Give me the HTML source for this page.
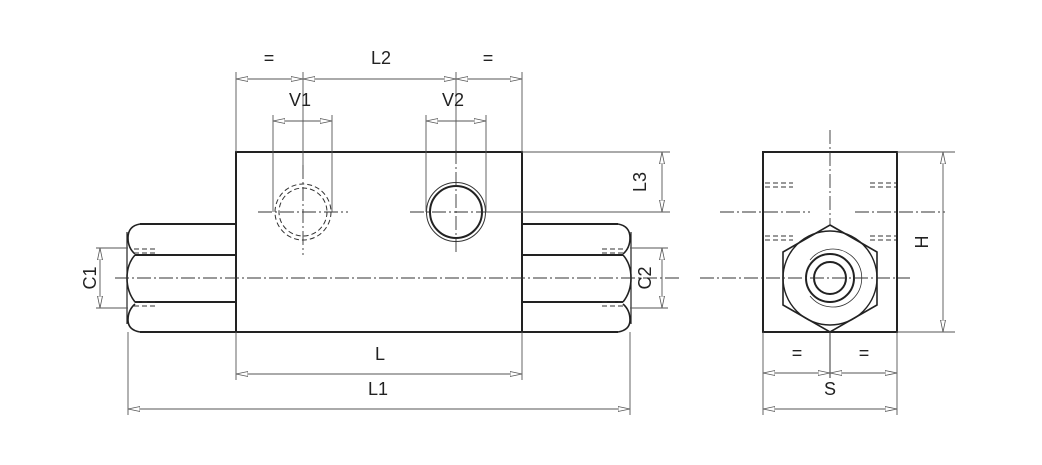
<!DOCTYPE html>
<html><head><meta charset="utf-8"><style>
html,body{margin:0;padding:0;background:#fff;}
svg{display:block;}
text{font-family:"Liberation Sans",sans-serif;font-size:18px;fill:#222;}
</style></head><body>
<svg width="1042" height="465" viewBox="0 0 1042 465" xmlns="http://www.w3.org/2000/svg">
<defs>
<marker id="a" viewBox="0 0 12 6" refX="12" refY="3" markerWidth="12" markerHeight="6" orient="auto-start-reverse" markerUnits="userSpaceOnUse">
<path d="M0,0.5 L12,3 L0,5.5 Z" fill="#fff" stroke="#555" stroke-width="0.8"/>
</marker>
</defs>
<g fill="none" stroke="#222" stroke-width="2">
<rect x="236" y="152" width="286" height="180"/>
<path d="M236,224 H140 M236,255 H135 M236,302 H135 M236,332 H140"/>
<path d="M140,224 Q128,226 128,238 Q128,248 135,254 M135,255 Q127,264 127,278 Q127,292 135,302 M135,304 Q128,310 128,320 Q128,330 140,332" stroke-width="1.6"/>
<path d="M127,232 V324 M631,232 V324" stroke-width="1.2"/>
<path d="M522,224 H618 M522,255 H623 M522,302 H623 M522,332 H618"/>
<path d="M618,224 Q630,226 630,238 Q630,248 623,254 M623,255 Q631,264 631,278 Q631,292 623,302 M623,304 Q630,310 630,320 Q630,330 618,332" stroke-width="1.6"/>
<circle cx="456" cy="212" r="26"/>
<rect x="763" y="152" width="134" height="180"/>
<polygon points="830,225 877,252 877,305 830,332 783,305 783,252" stroke-width="1.6"/>
<circle cx="830" cy="278" r="16"/>
<circle cx="830" cy="278" r="24"/>
<circle cx="830" cy="278" r="47" stroke-width="1.4"/>
</g>
<g fill="none" stroke="#333" stroke-width="1">
<circle cx="456" cy="212" r="29.5"/>
<path d="M810,260 A29,29 0 1 1 810,296" stroke-width="0.8"/>
<g stroke-dasharray="5,3" stroke-width="1">
<circle cx="303" cy="212" r="24"/>
<circle cx="303" cy="212" r="28"/>
<path d="M134,249 H156 M134,253 H156 M134,302 H156 M134,306 H156 M602,249 H624 M602,253 H624 M602,302 H624 M602,306 H624"/>
<path d="M765,183 H793 M765,187 H793 M870,183 H896 M870,187 H896 M765,236 H793 M765,240 H793 M870,236 H896 M870,240 H896"/>
</g>
<g stroke-dasharray="14,3,2,3" stroke-width="0.9">
<path d="M115,278 H680 M258,212 H348 M410,212 H500 M303,165 H303 V255 M456,150 V255"/>
<path d="M720,212 H810 M855,212 H945 M700,278 H910 M830,130 V225"/>
</g>
<path d="M830,332 V378"/>
</g>
<g fill="none" stroke="#555" stroke-width="0.9">
<path d="M236,72 V152 M522,72 V152 M303,72 V165 M456,72 V150"/>
<line x1="236" y1="79" x2="303" y2="79" marker-start="url(#a)" marker-end="url(#a)"/>
<line x1="303" y1="79" x2="456" y2="79" marker-start="url(#a)" marker-end="url(#a)"/>
<line x1="456" y1="79" x2="522" y2="79" marker-start="url(#a)" marker-end="url(#a)"/>
<path d="M273,115 V212 M332,115 V212 M426,115 V212 M486,115 V212"/>
<line x1="273" y1="121" x2="303" y2="121" marker-start="url(#a)"/>
<line x1="303" y1="121" x2="332" y2="121" marker-end="url(#a)"/>
<line x1="426" y1="121" x2="456" y2="121" marker-start="url(#a)"/>
<line x1="456" y1="121" x2="486" y2="121" marker-end="url(#a)"/>
<path d="M522,152 H670 M486,212 H670"/>
<line x1="662" y1="152" x2="662" y2="212" marker-start="url(#a)" marker-end="url(#a)"/>
<path d="M96,248 H128 M96,308 H128"/>
<line x1="100" y1="248" x2="100" y2="308" marker-start="url(#a)" marker-end="url(#a)"/>
<path d="M630,248 H668 M630,308 H668"/>
<line x1="662" y1="248" x2="662" y2="308" marker-start="url(#a)" marker-end="url(#a)"/>
<path d="M236,332 V380 M522,332 V380"/>
<line x1="236" y1="374" x2="522" y2="374" marker-start="url(#a)" marker-end="url(#a)"/>
<path d="M128,332 V415 M630,332 V415"/>
<line x1="128" y1="409" x2="630" y2="409" marker-start="url(#a)" marker-end="url(#a)"/>
<path d="M897,152 H955 M897,332 H955"/>
<line x1="943" y1="152" x2="943" y2="332" marker-start="url(#a)" marker-end="url(#a)"/>
<path d="M763,332 V415 M897,332 V415"/>
<line x1="763" y1="373" x2="830" y2="373" marker-start="url(#a)" marker-end="url(#a)"/>
<line x1="830" y1="373" x2="897" y2="373" marker-start="url(#a)" marker-end="url(#a)"/>
<line x1="763" y1="409" x2="897" y2="409" marker-start="url(#a)" marker-end="url(#a)"/>
</g>
<g text-anchor="middle">
<text x="269" y="64">=</text>
<text x="381" y="64">L2</text>
<text x="488" y="64">=</text>
<text x="300" y="106">V1</text>
<text x="453" y="106">V2</text>
<text x="380" y="360">L</text>
<text x="378" y="395">L1</text>
<text x="797" y="359">=</text>
<text x="864" y="359">=</text>
<text x="830" y="395">S</text>
<text transform="translate(646,182) rotate(-90)">L3</text>
<text transform="translate(96,278) rotate(-90)">C1</text>
<text transform="translate(651,278) rotate(-90)">C2</text>
<text transform="translate(928,242) rotate(-90)">H</text>
</g>
</svg>
</body></html>
